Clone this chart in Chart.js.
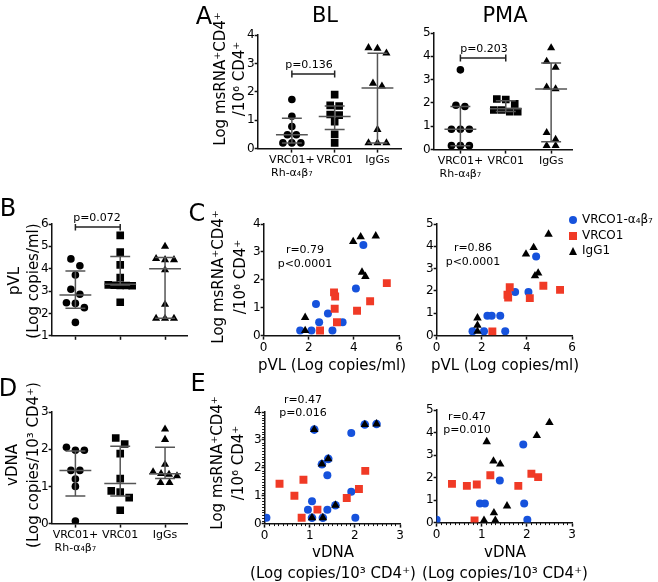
<!DOCTYPE html>
<html>
<head>
<meta charset="utf-8">
<script src="https://cdn.jsdelivr.net/npm/chart.js@4.4.1/dist/chart.umd.min.js"></script>
<style>
html, body { margin: 0; padding: 0; background: #fff; }
#fig { position: relative; width: 658px; height: 582px; overflow: hidden; font-family: "DejaVu Sans", sans-serif; color: #000; }
#fig canvas { position: absolute; }
.t { position: absolute; white-space: pre; text-align: center; line-height: 1; }
.leg { position: absolute; white-space: nowrap; line-height: 1; font-size: 12px; }
</style>
</head>
<body>
<div id="fig"></div>
<script>
// ---- data ----
const groupLabels = [['VRC01+', 'Rh-α₄β₇'], 'VRC01', 'IgGs'];

// A: log msRNA+CD4+ / 10^6 CD4+, BL
const blCombo = [1.73, 1.14, 0.78, 0.49, 0.49, 0.2, 0.2, 0.2];
const blVrc = [1.9, 1.52, 1.5, 1.2, 1.18, 0.95, 0.5, 0.2];
const blIgg = [3.55, 3.53, 3.36, 2.3, 2.2, 0.67, 0.2, 0.2, 0.2];
const blMed = [0.49, 1.13, 2.13];
const blLo = [0.2, 0.67, 0.2];
const blHi = [1.07, 1.5, 3.36];
const blBracket = 2.63, blP = 'p=0.136';

// A: PMA
const pmaCombo = [3.42, 1.9, 1.85, 0.87, 0.87, 0.87, 0.17, 0.17, 0.17];
const pmaVrc = [2.17, 2.15, 1.96, 1.7, 1.7, 1.63, 1.63];
const pmaIgg = [4.36, 3.78, 3.52, 2.68, 2.6, 0.73, 0.44, 0.17, 0.17];
const pmaMed = [0.87, 1.75, 2.6];
const pmaLo = [0.17, 1.63, 0.34];
const pmaHi = [1.85, 2.1, 3.71];
const pmaBracket = 3.93, pmaP = 'p=0.203';

// B: pVL
const pvlCombo = [4.44, 4.13, 3.72, 3.08, 2.86, 2.48, 2.45, 2.26, 1.6];
const pvlVrc = [5.49, 4.74, 4.17, 3.6, 3.28, 3.26, 3.25, 3.25, 3.24, 2.5];
const pvlIgg = [5.0, 4.45, 4.4, 4.4, 3.95, 2.4, 1.78, 1.78, 1.78];
const pvlMed = [2.83, 3.3, 4.0];
const pvlLo = [2.23, 3.27, 1.78];
const pvlHi = [3.9, 4.55, 4.5];
const pvlBracket = 5.87, pvlP = 'p=0.072';

// D: vDNA
const dnaCombo = [2.05, 1.97, 1.97, 1.43, 1.43, 1.2, 1.0, 0.07];
const dnaVrc = [2.3, 2.14, 1.88, 1.21, 0.88, 0.85, 0.7, 0.36];
const dnaIgg = [2.54, 2.26, 1.59, 1.39, 1.34, 1.32, 1.28, 1.1, 1.1];
const dnaMed = [1.43, 1.08, 1.34];
const dnaLo = [0.74, 0.74, 1.21];
const dnaHi = [1.95, 2.08, 2.05];

// C: pVL vs msRNA, BL
const cBlBlueX = [1.62, 2.12, 2.32, 2.46, 2.85, 3.05, 3.5, 4.09, 4.42];
const cBlBlueY = [0.18, 0.18, 1.13, 0.48, 0.79, 0.18, 0.48, 1.69, 3.25];
const cBlRedX = [2.5, 3.12, 3.17, 3.15, 3.25, 4.14, 4.72, 5.46];
const cBlRedY = [0.18, 1.55, 1.4, 0.96, 0.48, 0.89, 1.23, 1.88];
const cBlBlackX = [1.84, 1.84, 3.97, 4.3, 4.97, 4.36, 4.51];
const cBlBlackY = [0.65, 0.18, 3.37, 3.54, 3.57, 2.27, 2.12];

// C: PMA
const cPmaBlueX = [1.59, 2.1, 2.25, 2.44, 2.82, 3.04, 3.48, 4.07, 4.41];
const cPmaBlueY = [0.19, 0.19, 0.89, 0.89, 0.89, 0.19, 1.95, 1.95, 3.54];
const cPmaRedX = [2.47, 3.14, 3.17, 3.24, 4.13, 4.73, 5.47];
const cPmaRedY = [0.19, 1.83, 1.71, 2.17, 1.68, 2.23, 2.05];
const cPmaBlackX = [1.81, 1.81, 1.81, 3.96, 4.3, 4.96, 4.36, 4.5];
const cPmaBlackY = [0.79, 0.46, 0.19, 3.65, 3.94, 4.54, 2.68, 2.8];

// E: vDNA vs msRNA, BL
const eBlBlueX = [0.04, 0.96, 1.05, 1.39, 1.39, 1.92, 1.92, 2.01];
const eBlBlueY = [0.21, 0.5, 0.8, 1.73, 0.5, 3.25, 1.14, 0.21];
const eBlRedX = [0.33, 0.66, 0.86, 0.82, 1.17, 1.82, 2.09, 2.23];
const eBlRedY = [1.43, 1.0, 1.57, 0.21, 0.5, 0.92, 1.24, 1.89];
const eBlBlackX = [1.1, 1.27, 1.41, 2.22, 2.48, 1.57, 1.05, 1.29];
const eBlBlackY = [3.37, 2.13, 2.32, 3.55, 3.57, 0.66, 0.21, 0.21];

// E: PMA
const ePmaBlueX = [0.0, 0.96, 1.07, 1.4, 1.92, 1.94, 2.01];
const ePmaBlueY = [0.13, 0.85, 0.85, 1.87, 3.47, 0.85, 0.13];
const ePmaRedX = [0.34, 0.67, 0.89, 1.19, 0.84, 1.81, 2.1, 2.25];
const ePmaRedY = [1.72, 1.63, 1.69, 2.1, 0.1, 1.63, 2.17, 2.02];
const ePmaBlackX = [1.11, 1.26, 1.41, 2.22, 2.5, 1.56, 1.05, 1.27, 1.3];
const ePmaBlackY = [3.59, 2.73, 2.6, 3.86, 4.44, 0.74, 0.1, 0.43, 0.1];

const seriesNames = ['VRCO1-α₄β₇', 'VRCO1', 'IgG1'];
const msrnaTitle = ['Log msRNA⁺CD4⁺', '/10⁶ CD4⁺'];
const pvlTitle = 'pVL (Log copies/ml)';
const dnaTitle = ['vDNA', '(Log copies/10³ CD4⁺)'];

const BLUE = '#1652dc', RED = '#f03a26', BLACK = '#000', LINE = '#555';

// ---- helpers ----
const fig = document.getElementById('fig');
Chart.defaults.font.family = '"DejaVu Sans", sans-serif';
Chart.defaults.color = '#000';

// short ticks between the labelled ones
const minorTicks = {
  id: 'minorTicks',
  afterDraw(chart, args, opts) {
    const ctx = chart.ctx;
    ['x', 'y'].forEach(id => {
      const step = opts[id];
      if (!step) return;
      const s = chart.scales[id];
      const n = Math.round((s.max - s.min) / step);
      ctx.save();
      ctx.strokeStyle = '#111';
      ctx.lineWidth = 1;
      for (let k = 1; k < n; k++) {
        const v = s.min + k * step;
        if (Math.abs(v - Math.round(v)) < 1e-6) continue;
        const p = Math.round(s.getPixelForValue(v)) + 0.5;
        ctx.beginPath();
        if (id === 'x') { ctx.moveTo(p, s.top); ctx.lineTo(p, s.top + 2.5); }
        else { ctx.moveTo(s.right, p); ctx.lineTo(s.right - 2.5, p); }
        ctx.stroke();
      }
      ctx.restore();
    });
  }
};

function axis(min, max, ticks, vertical, cb, fontSize) {
  const a = {
    type: 'linear', min: min, max: max,
    afterBuildTicks: s => { s.ticks = ticks.map(v => ({ value: v })); },
    border: { color: '#111', width: 1.5 },
    grid: { drawOnChartArea: false, tickLength: vertical ? 3 : 4, tickColor: '#111', tickWidth: 1.5 },
    ticks: { font: { size: fontSize || 12 }, padding: vertical ? 0 : 1, autoSkip: false, maxRotation: 0, minRotation: 0 }
  };
  if (cb) a.ticks.callback = cb;
  return a;
}

function makeChart(box, scalesFn, datasetsFn, minor) {
  const cv = document.createElement('canvas');
  fig.appendChild(cv);
  let w = box.w + 80, h = box.h + 90;
  const cfg = () => ({
    type: 'scatter',
    data: { datasets: datasetsFn() },
    options: {
      responsive: false, maintainAspectRatio: false, animation: false, events: [],
      layout: { padding: { top: 12, right: 24, left: 2, bottom: 4 } },
      plugins: { legend: { display: false }, tooltip: { enabled: false }, minorTicks: minor || {} },
      scales: scalesFn()
    },
    plugins: [minorTicks]
  });
  cv.width = w; cv.height = h;
  let chart = new Chart(cv, cfg());
  let a = chart.chartArea;
  w += box.w - (a.right - a.left);
  h += box.h - (a.bottom - a.top);
  chart.destroy();
  cv.width = w; cv.height = h;
  chart = new Chart(cv, cfg());
  a = chart.chartArea;
  cv.style.left = (box.l - a.left) + 'px';
  cv.style.top = (box.t - a.top) + 'px';
  return chart;
}

// rows of near-equal values are spread sideways around the group centre
function beeswarm(vals, center, pxX, pxY) {
  const sorted = vals.slice().sort((a, b) => b - a);
  const pts = [];
  let i = 0;
  while (i < sorted.length) {
    const row = [sorted[i]];
    let j = i + 1;
    while (j < sorted.length && (sorted[i] - sorted[j]) * pxY < 7) { row.push(sorted[j]); j++; }
    const n = row.length;
    const step = n > 1 ? Math.min(9, 24 / (n - 1)) : 0;
    row.forEach((v, k) => pts.push({ x: center + (k - (n - 1) / 2) * step / pxX, y: v }));
    i = j;
  }
  return pts;
}

function segs(list) {
  const d = [];
  list.forEach(s => d.push({ x: s[0], y: s[1] }, { x: s[2], y: s[3] }, { x: s[0], y: null }));
  return d;
}

function lineSet(data, color) {
  return { data: data, showLine: true, spanGaps: false, borderColor: color, borderWidth: 1.5, pointRadius: 0, fill: false };
}

function dotPanel(p) {
  const pxX = p.box.w / (p.xr[1] - p.xr[0]);
  const pxY = p.box.h / (p.yr[1] - p.yr[0]);
  const shapes = [['circle', 3.8], ['rect', 5.4], ['triangle', 4.7]];
  const datasets = () => {
    const sum = [];
    p.med.forEach((m, i) => {
      const c = i + 1, mh = 16 / pxX, ch = 10 / pxX;
      sum.push([c - mh, m, c + mh, m], [c, p.lo[i], c, p.hi[i]],
               [c - ch, p.lo[i], c + ch, p.lo[i]], [c - ch, p.hi[i], c + ch, p.hi[i]]);
    });
    const out = [lineSet(segs(sum), LINE)];
    if (p.bracket !== undefined) {
      const e = 3.5 / pxY, b = p.bracket;
      out.push(lineSet(segs([[1, b, 2, b], [1, b - e, 1, b + e], [2, b - e, 2, b + e]]), '#222'));
    }
    p.groups.forEach((vals, i) => out.push({
      data: beeswarm(vals, i + 1, pxX, pxY),
      pointStyle: shapes[i][0], pointRadius: shapes[i][1],
      backgroundColor: BLACK, borderColor: BLACK, borderWidth: 0
    }));
    return out;
  };
  const yTicks = [];
  for (let v = p.yr[0]; v <= p.yr[1]; v++) yTicks.push(v);
  return makeChart(p.box, () => ({
    x: axis(p.xr[0], p.xr[1], [1, 2, 3], false, (v, i) => p.showLabels ? groupLabels[i] : '', 11),
    y: axis(p.yr[0], p.yr[1], yTicks, true)
  }), datasets);
}

function scatterPanel(p) {
  const datasets = () => {
    const pts = (xs, ys) => xs.map((x, i) => ({ x: x, y: ys[i] }));
    const out = [
      { data: pts(p.black[0], p.black[1]), pointStyle: 'triangle', pointRadius: 4.9, backgroundColor: BLACK, borderWidth: 0 },
      { data: pts(p.red[0], p.red[1]), pointStyle: 'rect', pointRadius: 5.6, backgroundColor: RED, borderWidth: 0 },
      { data: pts(p.blue[0], p.blue[1]), pointStyle: 'circle', pointRadius: 4, backgroundColor: BLUE, borderWidth: 0 }
    ];
    if (p.halo) out.push({ data: pts(p.black[0], p.black[1]), pointStyle: 'circle', pointRadius: 4.3, backgroundColor: BLUE, borderWidth: 0 });
    return out;
  };
  const xTicks = [], yTicks = [];
  for (let v = p.xr[0]; v <= p.xr[1]; v += p.xStep) xTicks.push(v);
  for (let v = p.yr[0]; v <= p.yr[1]; v++) yTicks.push(v);
  return makeChart(p.box, () => ({
    x: axis(p.xr[0], p.xr[1], xTicks, false),
    y: axis(p.yr[0], p.yr[1], yTicks, true)
  }), datasets, p.minor);
}

// text centred on (x, y); rotated for vertical axis titles
function text(x, y, str, size, opts) {
  opts = opts || {};
  const d = document.createElement('div');
  d.className = 't';
  d.style.left = x + 'px';
  d.style.top = y + 'px';
  d.style.fontSize = size + 'px';
  if (opts.lh) d.style.lineHeight = opts.lh + 'px';
  d.style.transform = 'translate(-50%, -50%)' + (opts.rotate ? ' rotate(-90deg)' : '');
  d.textContent = Array.isArray(str) ? str.join('\n') : str;
  fig.appendChild(d);
}

// ---- panels ----
dotPanel({ box: { l: 258, t: 35, w: 144, h: 114 }, xr: [0.2, 3.55], yr: [0, 4],
  groups: [blCombo, blVrc, blIgg], med: blMed, lo: blLo, hi: blHi, bracket: blBracket, showLabels: true });

dotPanel({ box: { l: 434, t: 33, w: 139, h: 117 }, xr: [0.41, 3.46], yr: [0, 5],
  groups: [pmaCombo, pmaVrc, pmaIgg], med: pmaMed, lo: pmaLo, hi: pmaHi, bracket: pmaBracket, showLabels: true });

dotPanel({ box: { l: 52, t: 224, w: 136, h: 112 }, xr: [0.47, 3.49], yr: [1, 6],
  groups: [pvlCombo, pvlVrc, pvlIgg], med: pvlMed, lo: pvlLo, hi: pvlHi, bracket: pvlBracket, showLabels: false });

dotPanel({ box: { l: 52, t: 412, w: 136, h: 112 }, xr: [0.47, 3.49], yr: [0, 3],
  groups: [dnaCombo, dnaVrc, dnaIgg], med: dnaMed, lo: dnaLo, hi: dnaHi, showLabels: true });

scatterPanel({ box: { l: 264, t: 224, w: 136, h: 112 }, xr: [0, 6], xStep: 2, yr: [0, 4],
  blue: [cBlBlueX, cBlBlueY], red: [cBlRedX, cBlRedY], black: [cBlBlackX, cBlBlackY] });

scatterPanel({ box: { l: 437, t: 224, w: 136, h: 112 }, xr: [0, 6], xStep: 2, yr: [0, 5],
  blue: [cPmaBlueX, cPmaBlueY], red: [cPmaRedX, cPmaRedY], black: [cPmaBlackX, cPmaBlackY] });

scatterPanel({ box: { l: 265, t: 412, w: 136, h: 112 }, xr: [0, 3], xStep: 1, yr: [0, 4],
  blue: [eBlBlueX, eBlBlueY], red: [eBlRedX, eBlRedY], black: [eBlBlackX, eBlBlackY], halo: true,
  minor: { x: 0.1, y: 0.1 } });

scatterPanel({ box: { l: 437, t: 410, w: 136, h: 113 }, xr: [0, 3], xStep: 1, yr: [0, 5],
  blue: [ePmaBlueX, ePmaBlueY], red: [ePmaRedX, ePmaRedY], black: [ePmaBlackX, ePmaBlackY],
  minor: { x: 0.1 } });

// ---- axis titles ----
text(230, 79, msrnaTitle, 15, { rotate: true, lh: 19 });
text(24, 281, ['pVL', '(Log copies/ml)'], 15, { rotate: true, lh: 19 });
text(229, 277, msrnaTitle, 15, { rotate: true, lh: 22 });
text(23, 465, dnaTitle, 15, { rotate: true, lh: 21 });
text(228, 463, msrnaTitle, 15, { rotate: true, lh: 21 });
text(332, 365, pvlTitle, 15);
text(505, 365, pvlTitle, 15);
text(333, 563, dnaTitle, 15, { lh: 21 });
text(505, 563, dnaTitle, 15, { lh: 21 });

// ---- panel letters, titles, statistics ----
text(204, 16, 'A', 24);
text(325, 15, 'BL', 21);
text(505, 15, 'PMA', 21);
text(8, 208, 'B', 24);
text(197, 213, 'C', 24);
text(8, 388, 'D', 24);
text(198, 383, 'E', 24);

text(309, 64, blP, 11);
text(484, 48, pmaP, 11);
text(97, 217, pvlP, 11);

text(305, 257, ['r=0.79', 'p<0.0001'], 11, { lh: 14 });
text(473, 255, ['r=0.86', 'p<0.0001'], 11, { lh: 14 });
text(303, 406, ['r=0.47', 'p=0.016'], 11, { lh: 13 });
text(467, 423, ['r=0.47', 'p=0.010'], 11, { lh: 13 });

// ---- legend ----
const legendColors = [BLUE, RED, BLACK];
const legendShapes = ['circle', 'rect', 'triangle'];
seriesNames.forEach((name, i) => {
  const y = 220 + i * 15.5;
  const m = document.createElement('div');
  m.style.position = 'absolute';
  if (legendShapes[i] === 'triangle') {
    Object.assign(m.style, { left: '568.5px', top: (y - 4.5) + 'px', width: '0', height: '0',
      borderLeft: '4.5px solid transparent', borderRight: '4.5px solid transparent', borderBottom: '8px solid ' + legendColors[i] });
  } else {
    Object.assign(m.style, { left: '569px', top: (y - 4) + 'px', width: '8px', height: '8px',
      background: legendColors[i], borderRadius: legendShapes[i] === 'circle' ? '50%' : '0' });
  }
  fig.appendChild(m);
  const t = document.createElement('div');
  t.className = 'leg';
  t.style.left = '582px';
  t.style.top = (y - 7) + 'px';
  t.textContent = name;
  fig.appendChild(t);
});
</script>
</body>
</html>
